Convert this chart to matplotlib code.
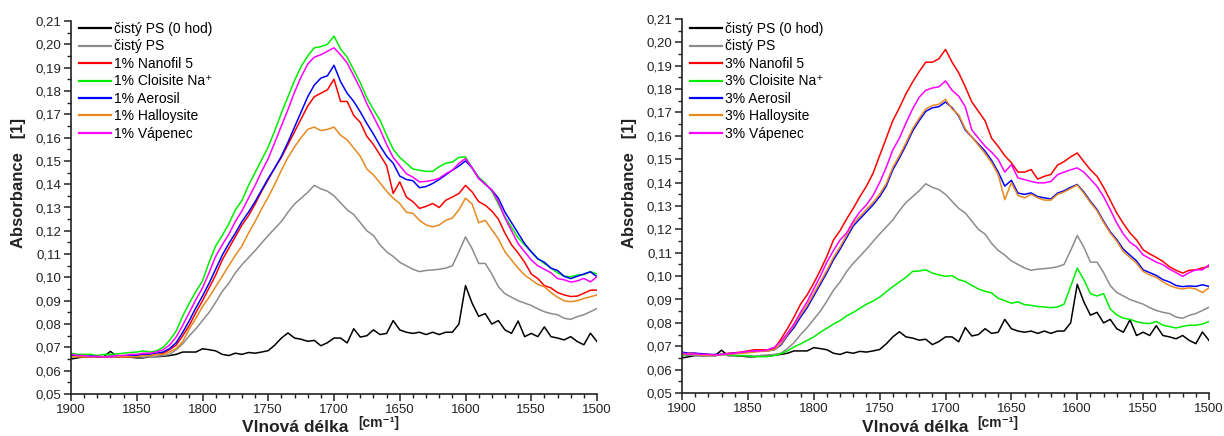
import numpy as np
import matplotlib
matplotlib.use("Agg")
import matplotlib.pyplot as plt
from matplotlib.ticker import MultipleLocator, FuncFormatter

plt.rcParams["font.family"] = ["Liberation Sans", "DejaVu Sans"]

# Wavenumber grid (cm-1), sampled every 5 cm-1 from 1900 down to 1500
wavenumber = np.arange(1900, 1499, -5)

# Reference spectra shared by both panels
ps_0h = [0.0650, 0.0655, 0.0660, 0.0660, 0.0660, 0.0660, 0.0683, 0.0660, 0.0660, 0.0658,
         0.0655, 0.0655, 0.0660, 0.0660, 0.0662, 0.0665, 0.0670, 0.0680, 0.0680, 0.0680,
         0.0694, 0.0690, 0.0685, 0.0670, 0.0665, 0.0675, 0.0670, 0.0678, 0.0675, 0.0680,
         0.0686, 0.0710, 0.0740, 0.0762, 0.0740, 0.0735, 0.0726, 0.0730, 0.0707, 0.0720,
         0.0740, 0.0740, 0.0719, 0.0780, 0.0744, 0.0750, 0.0775, 0.0755, 0.0760, 0.0815,
         0.0775, 0.0765, 0.0760, 0.0765, 0.0755, 0.0765, 0.0755, 0.0765, 0.0765, 0.0800,
         0.0965, 0.0890, 0.0833, 0.0845, 0.0800, 0.0815, 0.0775, 0.0760, 0.0813, 0.0746,
         0.0760, 0.0746, 0.0788, 0.0746, 0.0740, 0.0732, 0.0746, 0.0725, 0.0711, 0.0761,
         0.0725]
ps_aged = [0.0660, 0.0662, 0.0660, 0.0658, 0.0660, 0.0660, 0.0665, 0.0662, 0.0660, 0.0660,
           0.0660, 0.0658, 0.0660, 0.0662, 0.0665, 0.0670, 0.0690, 0.0715, 0.0750, 0.0780,
           0.0815, 0.0850, 0.0893, 0.0940, 0.0975, 0.1020, 0.1055, 0.1085, 0.1115, 0.1148,
           0.1180, 0.1210, 0.1240, 0.1280, 0.1315, 0.1340, 0.1365, 0.1395, 0.1380, 0.1370,
           0.1350, 0.1320, 0.1290, 0.1270, 0.1235, 0.1200, 0.1180, 0.1140, 0.1110, 0.1090,
           0.1065, 0.1050, 0.1035, 0.1025, 0.1030, 0.1032, 0.1035, 0.1040, 0.1050, 0.1110,
           0.1174, 0.1124, 0.1060, 0.1060, 0.1015, 0.0960, 0.0930, 0.0915, 0.0900, 0.0890,
           0.0880, 0.0865, 0.0853, 0.0845, 0.0840, 0.0825, 0.0820, 0.0832, 0.0840, 0.0853,
           0.0867]

# 1 % filler composites
nanofil_1 = [0.0665, 0.0660, 0.0660, 0.0660, 0.0660, 0.0658, 0.0660, 0.0660, 0.0660, 0.0660,
             0.0665, 0.0670, 0.0670, 0.0670, 0.0675, 0.0690, 0.0710, 0.0750, 0.0795, 0.0850,
             0.0900, 0.0955, 0.1010, 0.1075, 0.1125, 0.1175, 0.1225, 0.1265, 0.1315, 0.1370,
             0.1420, 0.1470, 0.1515, 0.1570, 0.1625, 0.1680, 0.1735, 0.1775, 0.1790, 0.1805,
             0.1850, 0.1755, 0.1755, 0.1695, 0.1665, 0.1605, 0.1570, 0.1525, 0.1480, 0.1360,
             0.1410, 0.1345, 0.1325, 0.1296, 0.1305, 0.1317, 0.1300, 0.1331, 0.1345, 0.1360,
             0.1395, 0.1367, 0.1325, 0.1310, 0.1285, 0.1250, 0.1190, 0.1140, 0.1105, 0.1065,
             0.1015, 0.0995, 0.0965, 0.0955, 0.0935, 0.0925, 0.0918, 0.0920, 0.0932, 0.0945,
             0.0946]
cloisite_1 = [0.0675, 0.0670, 0.0670, 0.0670, 0.0665, 0.0670, 0.0670, 0.0672, 0.0675, 0.0678,
              0.0680, 0.0685, 0.0680, 0.0685, 0.0700, 0.0730, 0.0770, 0.0835, 0.0890, 0.0940,
              0.0985, 0.1065, 0.1135, 0.1180, 0.1230, 0.1290, 0.1330, 0.1395, 0.1450, 0.1505,
              0.1560, 0.1630, 0.1705, 0.1775, 0.1845, 0.1905, 0.1950, 0.1985, 0.1990, 0.2000,
              0.2035, 0.1980, 0.1945, 0.1890, 0.1835, 0.1770, 0.1720, 0.1675, 0.1610, 0.1550,
              0.1515, 0.1490, 0.1465, 0.1460, 0.1455, 0.1455, 0.1475, 0.1490, 0.1495, 0.1515,
              0.1517, 0.1470, 0.1430, 0.1405, 0.1370, 0.1315, 0.1260, 0.1215, 0.1170, 0.1140,
              0.1110, 0.1080, 0.1060, 0.1040, 0.1020, 0.1005, 0.1003, 0.1010, 0.1012, 0.1025,
              0.1015]
aerosil_1 = [0.0665, 0.0665, 0.0660, 0.0663, 0.0660, 0.0660, 0.0660, 0.0660, 0.0665, 0.0663,
             0.0665, 0.0670, 0.0670, 0.0675, 0.0680, 0.0695, 0.0720, 0.0765, 0.0815, 0.0870,
             0.0920, 0.0975, 0.1035, 0.1095, 0.1145, 0.1190, 0.1240, 0.1280, 0.1325, 0.1375,
             0.1425, 0.1470, 0.1520, 0.1580, 0.1645, 0.1710, 0.1775, 0.1825, 0.1855, 0.1865,
             0.1910, 0.1840, 0.1790, 0.1755, 0.1710, 0.1660, 0.1615, 0.1565, 0.1520, 0.1490,
             0.1435, 0.1420, 0.1415, 0.1385, 0.1390, 0.1403, 0.1420, 0.1440, 0.1460, 0.1478,
             0.1500, 0.1470, 0.1425, 0.1400, 0.1375, 0.1340, 0.1280, 0.1235, 0.1190, 0.1145,
             0.1110, 0.1080, 0.1065, 0.1040, 0.1030, 0.1005, 0.0995, 0.1005, 0.1015, 0.1024,
             0.1003]
halloysite_1 = [0.0660, 0.0660, 0.0660, 0.0658, 0.0660, 0.0660, 0.0660, 0.0660, 0.0660, 0.0660,
                0.0660, 0.0665, 0.0665, 0.0670, 0.0670, 0.0680, 0.0695, 0.0725, 0.0780, 0.0825,
                0.0875, 0.0915, 0.0960, 0.1005, 0.1050, 0.1095, 0.1135, 0.1190, 0.1240, 0.1295,
                0.1345, 0.1400, 0.1460, 0.1515, 0.1560, 0.1600, 0.1635, 0.1645, 0.1630, 0.1635,
                0.1645, 0.1610, 0.1590, 0.1555, 0.1520, 0.1465, 0.1440, 0.1405, 0.1370, 0.1340,
                0.1317, 0.1280, 0.1275, 0.1245, 0.1225, 0.1217, 0.1225, 0.1245, 0.1255, 0.1290,
                0.1340, 0.1315, 0.1235, 0.1245, 0.1205, 0.1165, 0.1110, 0.1075, 0.1040, 0.1010,
                0.0990, 0.0970, 0.0960, 0.0935, 0.0915, 0.0900, 0.0896, 0.0900, 0.0910, 0.0917,
                0.0925]
vapenec_1 = [0.0670, 0.0665, 0.0665, 0.0660, 0.0662, 0.0658, 0.0660, 0.0665, 0.0665, 0.0670,
             0.0670, 0.0675, 0.0675, 0.0680, 0.0690, 0.0710, 0.0745, 0.0795, 0.0850, 0.0905,
             0.0955, 0.1020, 0.1090, 0.1140, 0.1185, 0.1240, 0.1285, 0.1340, 0.1395, 0.1455,
             0.1510, 0.1580, 0.1650, 0.1720, 0.1795, 0.1860, 0.1915, 0.1945, 0.1955, 0.1970,
             0.1985, 0.1955, 0.1920, 0.1865, 0.1810, 0.1745, 0.1690, 0.1635, 0.1570, 0.1515,
             0.1480, 0.1445, 0.1430, 0.1410, 0.1412, 0.1417, 0.1425, 0.1445, 0.1460, 0.1490,
             0.1510, 0.1470, 0.1425, 0.1400, 0.1375, 0.1325, 0.1255, 0.1200, 0.1145, 0.1110,
             0.1075, 0.1050, 0.1035, 0.1020, 0.0995, 0.0990, 0.0980, 0.0985, 0.0996, 0.0981,
             0.1003]

# 3 % filler composites
nanofil_3 = [0.0665, 0.0670, 0.0670, 0.0665, 0.0665, 0.0660, 0.0665, 0.0670, 0.0672, 0.0675,
             0.0680, 0.0685, 0.0685, 0.0685, 0.0690, 0.0730, 0.0775, 0.0825, 0.0880, 0.0920,
             0.0970, 0.1025, 0.1085, 0.1155, 0.1195, 0.1245, 0.1290, 0.1340, 0.1385, 0.1440,
             0.1515, 0.1590, 0.1665, 0.1720, 0.1780, 0.1830, 0.1875, 0.1915, 0.1915, 0.1930,
             0.1970, 0.1915, 0.1870, 0.1810, 0.1745, 0.1705, 0.1665, 0.1590, 0.1555, 0.1515,
             0.1485, 0.1445, 0.1445, 0.1456, 0.1415, 0.1427, 0.1435, 0.1475, 0.1490, 0.1510,
             0.1527, 0.1490, 0.1455, 0.1427, 0.1380, 0.1325, 0.1270, 0.1225, 0.1185, 0.1155,
             0.1113, 0.1095, 0.1080, 0.1063, 0.1040, 0.1025, 0.1013, 0.1025, 0.1027, 0.1035,
             0.1041]
cloisite_3 = [0.0663, 0.0665, 0.0668, 0.0665, 0.0665, 0.0660, 0.0665, 0.0665, 0.0660, 0.0660,
              0.0658, 0.0656, 0.0655, 0.0656, 0.0660, 0.0668, 0.0680, 0.0697, 0.0710, 0.0725,
              0.0740, 0.0760, 0.0777, 0.0795, 0.0810, 0.0830, 0.0845, 0.0862, 0.0880, 0.0893,
              0.0910, 0.0933, 0.0955, 0.0975, 0.0995, 0.1020, 0.1022, 0.1027, 0.1013, 0.1005,
              0.0999, 0.1002, 0.0985, 0.0977, 0.0960, 0.0945, 0.0935, 0.0928, 0.0905, 0.0895,
              0.0884, 0.0890, 0.0878, 0.0875, 0.0870, 0.0868, 0.0865, 0.0868, 0.0880, 0.0956,
              0.1034, 0.0985, 0.0925, 0.0915, 0.0925, 0.0860, 0.0834, 0.0820, 0.0815, 0.0805,
              0.0799, 0.0797, 0.0806, 0.0790, 0.0784, 0.0778, 0.0785, 0.0790, 0.0790, 0.0795,
              0.0806]
aerosil_3 = [0.0675, 0.0670, 0.0670, 0.0668, 0.0665, 0.0665, 0.0665, 0.0668, 0.0670, 0.0672,
             0.0675, 0.0678, 0.0680, 0.0680, 0.0685, 0.0705, 0.0745, 0.0780, 0.0825, 0.0865,
             0.0915, 0.0965, 0.1015, 0.1070, 0.1115, 0.1165, 0.1215, 0.1245, 0.1275, 0.1305,
             0.1340, 0.1385, 0.1455, 0.1505, 0.1560, 0.1620, 0.1665, 0.1705, 0.1720, 0.1725,
             0.1745, 0.1720, 0.1685, 0.1625, 0.1595, 0.1565, 0.1535, 0.1495, 0.1445, 0.1385,
             0.1410, 0.1355, 0.1350, 0.1356, 0.1340, 0.1335, 0.1330, 0.1355, 0.1365, 0.1380,
             0.1392, 0.1360, 0.1320, 0.1285, 0.1235, 0.1190, 0.1156, 0.1115, 0.1090, 0.1065,
             0.1027, 0.1015, 0.1003, 0.0985, 0.0975, 0.0960, 0.0955, 0.0958, 0.0956, 0.0963,
             0.0956]
halloysite_3 = [0.0665, 0.0668, 0.0665, 0.0662, 0.0660, 0.0662, 0.0665, 0.0665, 0.0668, 0.0670,
                0.0672, 0.0675, 0.0678, 0.0680, 0.0685, 0.0710, 0.0750, 0.0790, 0.0835, 0.0875,
                0.0925, 0.0975, 0.1025, 0.1080, 0.1125, 0.1175, 0.1225, 0.1255, 0.1285, 0.1315,
                0.1350, 0.1395, 0.1465, 0.1515, 0.1570, 0.1630, 0.1675, 0.1715, 0.1730, 0.1735,
                0.1756, 0.1715, 0.1690, 0.1630, 0.1595, 0.1560, 0.1525, 0.1485, 0.1435, 0.1327,
                0.1400, 0.1345, 0.1335, 0.1350, 0.1335, 0.1325, 0.1325, 0.1350, 0.1360, 0.1375,
                0.1390, 0.1355, 0.1315, 0.1280, 0.1230, 0.1185, 0.1150, 0.1105, 0.1080, 0.1055,
                0.1020, 0.1005, 0.0995, 0.0975, 0.0960, 0.0950, 0.0945, 0.0950, 0.0945, 0.0930,
                0.0950]
vapenec_3 = [0.0672, 0.0665, 0.0668, 0.0665, 0.0665, 0.0662, 0.0665, 0.0668, 0.0670, 0.0675,
             0.0678, 0.0680, 0.0680, 0.0685, 0.0695, 0.0720, 0.0755, 0.0795, 0.0845, 0.0890,
             0.0945, 0.1000, 0.1060, 0.1110, 0.1155, 0.1185, 0.1235, 0.1275, 0.1305, 0.1345,
             0.1400, 0.1465, 0.1540, 0.1590, 0.1655, 0.1715, 0.1765, 0.1795, 0.1805, 0.1810,
             0.1835, 0.1795, 0.1770, 0.1725, 0.1625, 0.1590, 0.1556, 0.1530, 0.1499, 0.1445,
             0.1477, 0.1420, 0.1413, 0.1405, 0.1399, 0.1399, 0.1405, 0.1434, 0.1445, 0.1455,
             0.1463, 0.1445, 0.1415, 0.1384, 0.1340, 0.1285, 0.1227, 0.1180, 0.1145, 0.1125,
             0.1091, 0.1075, 0.1060, 0.1049, 0.1030, 0.1015, 0.0999, 0.1015, 0.1027, 0.1027,
             0.1048]

filler_names = ["Nanofil 5", "Cloisite Na\u207a", "Aerosil", "Halloysite", "Vápenec"]
filler_colors = ["#ff0000", "#00ee00", "#0000ff", "#e8891f", "#ff00ff"]
ref_labels = ["čistý PS (0 hod)", "čistý PS"]
ref_colors = ["#000000", "#8c8c8c"]

panels = [
    ("1%", [nanofil_1, cloisite_1, aerosil_1, halloysite_1, vapenec_1]),
    ("3%", [nanofil_3, cloisite_3, aerosil_3, halloysite_3, vapenec_3]),
]

W, H = 1224, 436
fig = plt.figure(figsize=(W / 100, H / 100), dpi=100)

# axes boxes in pixels: left, right, top, bottom
boxes = [(71, 597, 21, 394), (682, 1209, 19, 393)]
ylabel_x = [19, 630]
xlabel_x = [(242, 358), (862, 977)]


def comma_fmt(v, pos):
    return f"{v:.2f}".replace(".", ",")


for (prefix, series), (l, r, t, b), ylx, (xl1, xl2) in zip(panels, boxes, ylabel_x, xlabel_x):
    ax = fig.add_axes([l / W, 1 - b / H, (r - l) / W, (b - t) / H])
    for vals, lab, col in zip([ps_0h, ps_aged], ref_labels, ref_colors):
        ax.plot(wavenumber, vals, color=col, lw=1.1, label=lab)
    for vals, name, col in zip(series, filler_names, filler_colors):
        ax.plot(wavenumber, vals, color=col, lw=1.1, label=f"{prefix} {name}")

    ax.set_xlim(1900, 1500)
    ax.set_ylim(0.05, 0.21)
    for s in ("top", "right"):
        ax.spines[s].set_visible(False)
    for s in ("left", "bottom"):
        ax.spines[s].set_linewidth(1.2)
        ax.spines[s].set_color("#222222")
    ax.xaxis.set_major_locator(MultipleLocator(50))
    ax.xaxis.set_minor_locator(MultipleLocator(10))
    ax.yaxis.set_major_locator(MultipleLocator(0.01))
    ax.yaxis.set_minor_locator(MultipleLocator(0.005))
    ax.yaxis.set_major_formatter(FuncFormatter(comma_fmt))
    ax.tick_params(which="major", direction="out", length=5, width=1.1,
                   labelsize=9.5, colors="#222222", pad=2)
    ax.tick_params(which="minor", direction="out", length=3, width=1.0, colors="#222222")

    leg = ax.legend(loc="upper left", bbox_to_anchor=((l + 8) / W, 1 - 22 / H),
                    bbox_transform=fig.transFigure, frameon=False, fontsize=10,
                    handlelength=2.3, handletextpad=0.25, labelspacing=0.25,
                    borderpad=0, borderaxespad=0)
    for h in leg.legend_handles:
        h.set_linewidth(1.6)

    fig.text(ylx / W, 1 - 183 / H, "Absorbance   [1]", rotation=90, fontsize=12,
             fontweight="bold", ha="center", va="center", color="#222222")
    fig.text(xl1 / W, 1 - 420 / H, "Vlnová délka", fontsize=12.5, fontweight="bold",
             ha="left", va="top", color="#222222")
    fig.text(xl2 / W, 1 - 416 / H, "[cm\u207b\u00b9]", fontsize=10, fontweight="bold",
             ha="left", va="top", color="#222222")

fig.savefig("out.png", dpi=100)
